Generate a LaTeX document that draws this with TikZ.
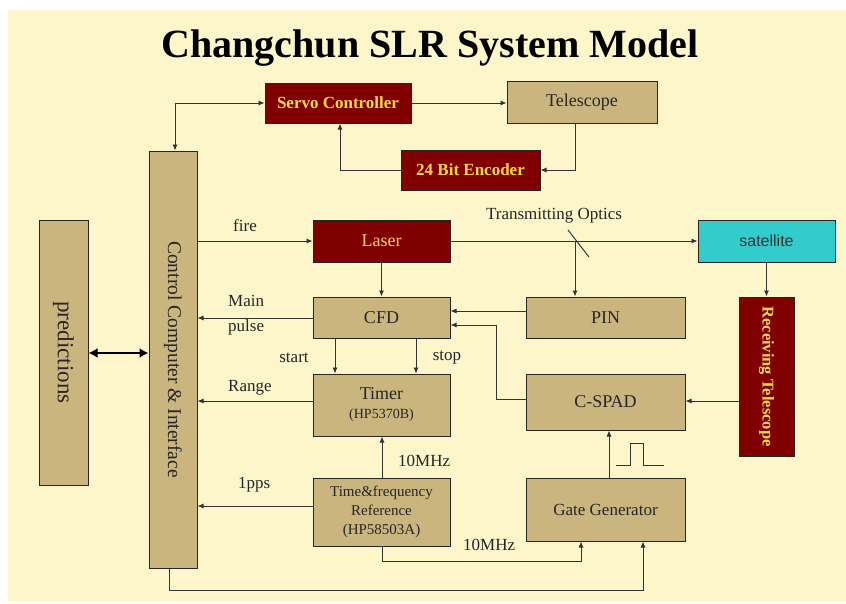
\documentclass[tikz,border=0pt]{standalone}
\usepackage{fontspec}
\setmainfont{Liberation Serif}
\newfontfamily\sansf{Liberation Sans}
\usetikzlibrary{arrows.meta}
\definecolor{bg}{HTML}{FCF6CA}
\definecolor{tanf}{HTML}{C9B57D}
\definecolor{dred}{HTML}{800000}
\definecolor{goldt}{HTML}{FFD84A}
\definecolor{cyanb}{HTML}{33CCCC}
\definecolor{ln}{HTML}{333333}
\begin{document}
\begin{tikzpicture}[x=1pt,y=-1pt,
  tanbox/.style={draw=black!85, line width=1pt, fill=tanf, inner sep=0pt,
    font=\fontsize{18}{21}\selectfont, text=black!85, align=center},
  redbox/.style={draw=black!85, line width=1pt, fill=dred, inner sep=0pt,
    text=goldt, font=\bfseries\fontsize{17}{19}\selectfont},
  arr/.style={draw=ln, line width=0.9pt, -{Latex[length=6pt,width=5pt]}},
  lbl/.style={font=\fontsize{17}{19}\selectfont, text=black!85, inner sep=0pt}]
\useasboundingbox (0,0) rectangle (846,603);
\fill[white] (0,0) rectangle (846,603);
\fill[bg] (8,10) rectangle (846,601);

\node[font=\bfseries\fontsize{40}{44}\selectfont, anchor=base] (title) at (430,57) {Changchun SLR System Model};

% boxes
\node[redbox, minimum width=146, minimum height=40] (servo) at (338,103) {Servo Controller};
\node[tanbox, minimum width=150, minimum height=42] (tele) at (582,102) {Telescope};
\node[redbox, minimum width=139, minimum height=40] (enc) at (470.5,170) {24 Bit Encoder};
\node[tanbox, minimum width=48, minimum height=417, font=\fontsize{19.5}{22}\selectfont] (cc) at (173,359.5) {\rotatebox{-90}{Control Computer \& Interface}};
\node[tanbox, minimum width=49, minimum height=265, font=\fontsize{23}{25}\selectfont] (pred) at (63.5,352.5) {\rotatebox{-90}{predictions}};
\node[redbox, minimum width=137, minimum height=42, font=\fontsize{18}{20}\selectfont] (laser) at (381.5,241) {Laser};
\node[draw=black!85, line width=1pt, fill=cyanb, inner sep=0pt, minimum width=137, minimum height=42, font=\sansf\fontsize{16}{18}\selectfont, text=black!80] (sat) at (766.5,241) {satellite};
\node[tanbox, minimum width=159, minimum height=41] (pin) at (605.5,317.5) {PIN};
\node[tanbox, minimum width=137, minimum height=41] (cfd) at (381.5,317.5) {CFD};
\node[tanbox, minimum width=159, minimum height=56] (cspad) at (605.5,402) {C-SPAD};
\node[redbox, minimum width=55, minimum height=159, font=\bfseries\fontsize{16.5}{18}\selectfont] (rt) at (766.5,376.5) {\rotatebox{-90}{Receiving Telescope}};
\node[tanbox, minimum width=137, minimum height=62] (timer) at (381.5,405) {Timer\\[-2pt]{\fontsize{14}{16}\selectfont (HP5370B)}};
\node[tanbox, minimum width=137, minimum height=68, font=\fontsize{15}{19}\selectfont] (tf) at (381.5,512) {Time\&frequency\\Reference\\(HP58503A)};
\node[tanbox, minimum width=159, minimum height=63, font=\fontsize{17}{20}\selectfont] (gg) at (605.5,509.5) {Gate Generator};

% lane coordinates
\coordinate (yMain) at (0,318);
\coordinate (yPin) at (0,311);
\coordinate (yCs) at (0,399);
\coordinate (yCs2) at (0,325);
\coordinate (xCs) at (496,0);
\coordinate (xSt) at (335,0);
\coordinate (xSp) at (416,0);
\coordinate (yR) at (0,401);
\coordinate (x10) at (382,0);
\coordinate (y1pps) at (0,506);
\coordinate (yb1) at (0,561);
\coordinate (xg1) at (581,0);
\coordinate (xc) at (169,0);
\coordinate (yb2) at (0,590);
\coordinate (xg2) at (643,0);
\coordinate (xgc) at (609,0);
\coordinate (ypc) at (0,353);
\coordinate (xcs) at (175,0);
\coordinate (xte) at (575,0);
\coordinate (xes) at (340,0);
\coordinate (mir) at (575,241);

% top loop
\draw[arr, {Latex[length=6pt,width=5pt]}-{Latex[length=6pt,width=5pt]}] (cc.north -| xcs) -- (xcs |- servo.west) -- (servo.west);
\draw[arr] (servo.east) -- (tele.west |- servo.east);
\draw[arr] (tele.south -| xte) -- (xte |- enc.east) -- (enc.east);
\draw[arr] (enc.west) -- (xes |- enc.west) -- (servo.south -| xes);

% laser path
\draw[arr] (cc.east |- laser.west) -- (laser.west);
\draw[arr] (laser.east) -- (sat.west);
\draw[ln, line width=1pt] (568,230) -- (589,257);
\draw[arr] (mir) -- (mir |- pin.north);
\draw[arr] (laser.south) -- (cfd.north);
\draw[arr] (sat.south) -- (rt.north);
\draw[arr] (rt.west |- yR) -- (cspad.east |- yR);

% CFD
\draw[arr] (pin.west |- yPin) -- (cfd.east |- yPin);
\draw[arr] (cspad.west |- yCs) -- (xCs |- yCs) -- (xCs |- yCs2) -- (cfd.east |- yCs2);
\draw[arr] (cfd.west |- yMain) -- (cc.east |- yMain);
\draw[arr] (cfd.south -| xSt) -- (timer.north -| xSt);
\draw[arr] (cfd.south -| xSp) -- (timer.north -| xSp);

% timer and reference
\draw[arr] (timer.west |- yR) -- (cc.east |- yR);
\draw[arr] (tf.north -| x10) -- (timer.south -| x10);
\draw[arr] (tf.west |- y1pps) -- (cc.east |- y1pps);
\draw[arr] (tf.south -| x10) -- (x10 |- yb1) -- (xg1 |- yb1) -- (gg.south -| xg1);
\draw[arr] (cc.south -| xc) -- (xc |- yb2) -- (xg2 |- yb2) -- (gg.south -| xg2);
\draw[arr] (gg.north -| xgc) -- (cspad.south -| xgc);
\draw[ln, line width=1pt] (616,465) -- (630,465) -- (630,443) -- (643,443) -- (643,465) -- (664,465);

% predictions
\draw[line width=2.5pt, black, {Latex[length=9pt,width=10pt]}-{Latex[length=9pt,width=10pt]}] (pred.east |- ypc) -- (cc.west |- ypc);

% labels
\node[lbl] (lfire) at (245,226) {fire};
\node[lbl, anchor=west] (lmain) at (228,301) {Main};
\node[lbl, anchor=west] (lpulse) at (228,327) {pulse};
\node[lbl] (lstart) at (294,358) {start};
\node[lbl] (lstop) at (447,358) {stop};
\node[lbl, anchor=west] (lrange) at (228,388) {Range};
\node[lbl, anchor=west] (l10a) at (398,461) {10MHz};
\node[lbl, anchor=west] (l1pps) at (238,485) {1pps};
\node[lbl, anchor=west] (l10b) at (463,545) {10MHz};
\node[lbl] (lopt) at (554,216) {Transmitting Optics};
\end{tikzpicture}
\end{document}
